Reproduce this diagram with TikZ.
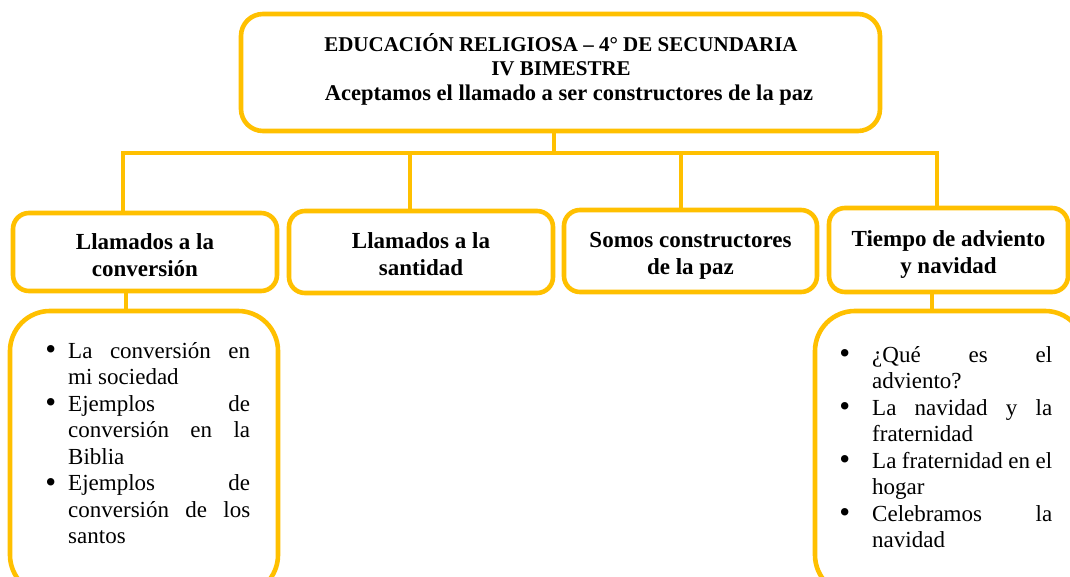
\documentclass[tikz,border=0pt]{standalone}
\usepackage{fontspec}
\setmainfont{Liberation Serif}
\definecolor{gold}{HTML}{FFC000}
\newcommand\itembul[1]{\noindent\llap{\raisebox{-1.5pt}{\fontsize{31}{26.5}\selectfont\textbullet}\hspace{#1}}}
\tikzset{
  box/.style={draw=gold, line width=4.6pt, rounded corners=16pt, fill=white, inner sep=0pt},
  bigbox/.style={draw=gold, line width=4.6pt, rounded corners=40pt, fill=white, inner sep=0pt},
  link/.style={draw=gold, line width=4.6pt},
  headtxt/.style={font=\fontsize{23}{27}\selectfont\bfseries, align=center},
  titletxt/.style={font=\fontsize{21}{24.5}\selectfont\bfseries, align=center},
  items/.style={font=\fontsize{23}{26.5}\selectfont, align=justify, inner sep=0pt, anchor=north west}
}
\begin{document}
\begin{tikzpicture}[x=1pt,y=-1pt]
\useasboundingbox (0,0) rectangle (1070,577);
\clip (0,0) rectangle (1070,577);
\fill[white] (0,0) rectangle (1070,577);
% junction coordinates
\coordinate (jt) at (554,153);
\coordinate (j1) at (123,153);
\coordinate (j2) at (410,153);
\coordinate (j3) at (681,153);
\coordinate (j4) at (937,153);
\coordinate (k1) at (126,300);
\coordinate (k4) at (932,300);
% boxes
\node[box, rounded corners=22pt, minimum width=639pt, minimum height=117pt] (top) at (560.5,72.5) {};
\node[box, minimum width=264pt, minimum height=78pt] (b1) at (145,252) {};
\node[box, minimum width=264pt, minimum height=82pt] (b2) at (421,252) {};
\node[box, minimum width=253pt, minimum height=82pt] (b3) at (690.5,251) {};
\node[box, minimum width=239pt, minimum height=84pt] (b4) at (948.5,250) {};
\node[bigbox, minimum width=268pt, minimum height=284pt] (l1) at (144,453) {};
\node[bigbox, minimum width=270pt, minimum height=284pt] (l4) at (950,453) {};
% connectors
\draw[link] (top.south -| jt) -- (jt);
\draw[link] (j1 |- b1.north) -- (j1) -- (j4) -- (j4 |- b4.north);
\draw[link] (j2) -- (j2 |- b2.north);
\draw[link] (j3) -- (j3 |- b3.north);
\draw[link] (k1 |- b1.south) -- (k1 |- l1.north);
\draw[link] (k4 |- b4.south) -- (k4 |- l4.north);
% texts
\node[titletxt] (ttl) at (561,69) {EDUCACIÓN RELIGIOSA – 4° DE SECUNDARIA\\IV BIMESTRE\\\hspace*{16pt}{\fontsize{22.5}{24.5}\selectfont Aceptamos el llamado a ser constructores de la paz}};
\node[headtxt] (h1) at ([yshift=-3pt]b1.center) {Llamados a la\\conversión};
\node[headtxt] (h2) at ([yshift=-2pt]b2.center) {Llamados a la\\santidad};
\node[headtxt] (h3) at ([yshift=-5pt]b3.center) {Somos constructores\\de la paz};
\node[headtxt] (h4) at ([yshift=-5pt]b4.center) {Tiempo de adviento\\y navidad};
\node[items, text width=182pt] (t1) at (68,342) {%
\itembul{12pt}La\hfill conversión\hfill en\\
mi sociedad\\
\itembul{12pt}Ejemplos\hfill de\\
conversión\hfill en\hfill la\\
Biblia\\
\itembul{12pt}Ejemplos\hfill de\\
conversión\hfill de\hfill los\\
santos};
\node[items, text width=180pt] (t4) at (872,346) {%
\itembul{22pt}¿Qué\hfill es\hfill el\\
adviento?\\
\itembul{22pt}La\hfill navidad\hfill y\hfill la\\
fraternidad\\
\itembul{22pt}La fraternidad en el\\
hogar\\
\itembul{22pt}Celebramos\hfill la\\
navidad};
\end{tikzpicture}
\end{document}
